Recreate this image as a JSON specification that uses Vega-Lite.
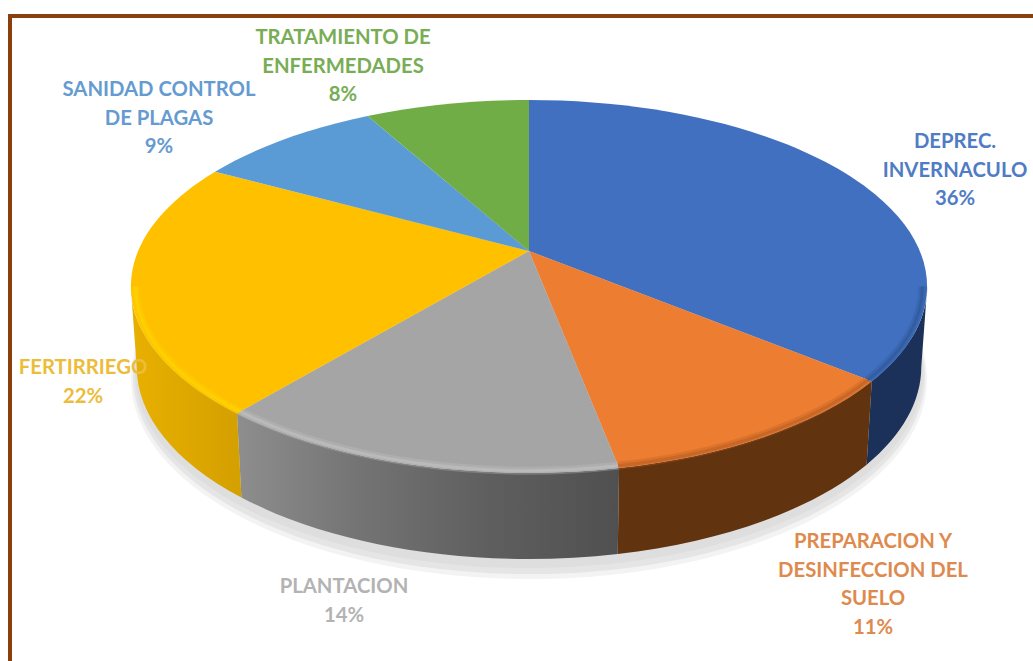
{
"$schema":"https://vega.github.io/schema/vega-lite/v6.json",
"width":1033,"height":661,"padding":0,"autosize":"none","background":"#ffffff",
"config":{"view":{"stroke":null}},
"data":{"values":[
{"sector":"DEPREC. INVERNACULO","label":"DEPREC.|INVERNACULO|36%","value":36},
{"sector":"PREPARACION Y DESINFECCION DEL SUELO","label":"PREPARACION Y|DESINFECCION DEL|SUELO|11%","value":11},
{"sector":"PLANTACION","label":"PLANTACION|14%","value":14},
{"sector":"FERTIRRIEGO","label":"FERTIRRIEGO|22%","value":22},
{"sector":"SANIDAD CONTROL DE PLAGAS","label":"SANIDAD CONTROL|DE PLAGAS|9%","value":9},
{"sector":"TRATAMIENTO DE ENFERMEDADES","label":"TRATAMIENTO DE|ENFERMEDADES|8%","value":8}
]},
"transform":[
{"window":[{"op":"sum","field":"value","as":"end"}]},
{"calculate":"datum.end-datum.value","as":"start"},
{"calculate":"max(datum.start,28.05)","as":"s0"},
{"calculate":"min(datum.end,71.95)","as":"s1"},
{"calculate":"datum.start*PI/50","as":"t0"},
{"calculate":"datum.end*PI/50","as":"t1"},
{"calculate":"datum.s0*PI/50","as":"a0"},
{"calculate":"datum.s1*PI/50","as":"a1"},
{"calculate":"391*sin(datum.t0)/(1+0.19*cos(datum.t0))","as":"x0"},
{"calculate":"-179.7*cos(datum.t0)/(1+0.19*cos(datum.t0))","as":"y0"},
{"calculate":"391*sin(datum.t1)/(1+0.19*cos(datum.t1))","as":"x1"},
{"calculate":"-179.7*cos(datum.t1)/(1+0.19*cos(datum.t1))","as":"y1"},
{"calculate":"391*sin(datum.a0)/(1+0.19*cos(datum.a0))","as":"u0"},
{"calculate":"-179.7*cos(datum.a0)/(1+0.19*cos(datum.a0))","as":"v0"},
{"calculate":"391*sin(datum.a1)/(1+0.19*cos(datum.a1))","as":"u1"},
{"calculate":"-179.7*cos(datum.a1)/(1+0.19*cos(datum.a1))","as":"v1"},
{"calculate":"'M0,0L'+datum.x0+','+datum.y0+'A398,186.5 0 0 1 '+datum.x1+','+datum.y1+'Z'","as":"wedge"},
{"calculate":"'M'+datum.u0+','+datum.v0+'A398,186.5 0 0 1 '+datum.u1+','+datum.v1+'L'+(datum.u1*0.985)+','+(116+(datum.v1-35.5)*1.03)+'A392,192 0 0 0 '+(datum.u0*0.985)+','+(116+(datum.v0-35.5)*1.03)+'Z'","as":"side"},
{"calculate":"'M'+(datum.u0*0.988)+','+(35.5+(datum.v0-35.5)*0.988)+'A393.2,184.3 0 0 1 '+(datum.u1*0.988)+','+(35.5+(datum.v1-35.5)*0.988)","as":"rim"},
{"calculate":"{'DEPREC. INVERNACULO':426,'PREPARACION Y DESINFECCION DEL SUELO':344,'PLANTACION':-185,'FERTIRRIEGO':-446,'SANIDAD CONTROL DE PLAGAS':-370,'TRATAMIENTO DE ENFERMEDADES':-186}[datum.sector]","as":"lx"},
{"calculate":"{'DEPREC. INVERNACULO':-109,'PREPARACION Y DESINFECCION DEL SUELO':291,'PLANTACION':336,'FERTIRRIEGO':117,'SANIDAD CONTROL DE PLAGAS':-161,'TRATAMIENTO DE ENFERMEDADES':-213}[datum.sector]","as":"ly"}
],
"layer":[
{"transform":[{"filter":"datum.value==36"}],"mark":{"type":"rule","stroke":"#8B3F0C","strokeWidth":4},"encoding":{"x":{"datum":-519,"type":"quantitative","scale":{"domain":[-529,504]},"axis":null},"y":{"datum":-237,"type":"quantitative","scale":{"domain":[-251,410],"reverse":true},"axis":null},"y2":{"datum":410}}},
{"transform":[{"filter":"datum.value==36"}],"mark":{"type":"rule","stroke":"#8B3F0C","strokeWidth":4},"encoding":{"y":{"datum":-235,"type":"quantitative","scale":{"domain":[-251,410],"reverse":true},"axis":null},"x":{"datum":-521,"type":"quantitative","scale":{"domain":[-529,504]},"axis":null},"x2":{"datum":504}}},
{"encoding":{
"x":{"datum":0,"type":"quantitative","scale":{"domain":[-529,504]},"axis":null},
"y":{"datum":0,"type":"quantitative","scale":{"domain":[-251,410],"reverse":true},"axis":null}
},
"layer":[
{"transform":[{"filter":"datum.value==36"}],"mark":{"type":"point","filled":true,"opacity":0.3,"fill":"#d8d8d8","strokeWidth":0,"size":4,"shape":"M-398,128A398,200 0 1 1 398,128A398,200 0 1 1 -398,128Z"}},
{"transform":[{"filter":"datum.value==36"}],"mark":{"type":"point","filled":true,"opacity":0.5,"fill":"#d8d8d8","strokeWidth":0,"size":4,"shape":"M-396,125A396,198 0 1 1 396,125A396,198 0 1 1 -396,125Z"}},
{"transform":[{"filter":"datum.value==36"}],"mark":{"type":"point","filled":true,"opacity":1,"fill":"#dedede","strokeWidth":0,"size":4,"shape":"M-394,122A394,195 0 1 1 394,122A394,195 0 1 1 -394,122Z"}},
{"transform":[{"filter":"datum.value==36"}],"mark":{"type":"point","filled":true,"opacity":1,"fill":"#1b3159","strokeWidth":0,"size":4},"encoding":{"shape":{"field":"side","type":"nominal","scale":null,"legend":null}}},
{"transform":[{"filter":"datum.value==11"}],"mark":{"type":"point","filled":true,"opacity":1,"fill":"#62330f","strokeWidth":0,"size":4},"encoding":{"shape":{"field":"side","type":"nominal","scale":null,"legend":null}}},
{"transform":[{"filter":"datum.value==14"}],"mark":{"type":"point","filled":true,"opacity":1,"strokeWidth":0,"size":4,"fill":{"gradient":"linear","x1":0,"y1":0,"x2":1,"y2":0,"stops":[{"offset":0,"color":"#8e8e8e"},{"offset":0.3,"color":"#757575"},{"offset":0.65,"color":"#5f5f5f"},{"offset":1,"color":"#505050"}]}},"encoding":{"shape":{"field":"side","type":"nominal","scale":null,"legend":null}}},
{"transform":[{"filter":"datum.value==22"}],"mark":{"type":"point","filled":true,"opacity":1,"strokeWidth":0,"size":4,"fill":{"gradient":"linear","x1":0,"y1":0,"x2":1,"y2":0,"stops":[{"offset":0,"color":"#e8b000"},{"offset":1,"color":"#d4a000"}]}},"encoding":{"shape":{"field":"side","type":"nominal","scale":null,"legend":null}}},
{"mark":{"type":"point","filled":true,"opacity":1,"strokeWidth":0,"size":4},"encoding":{
"shape":{"field":"wedge","type":"nominal","scale":null,"legend":null},
"fill":{"field":"sector","type":"nominal","legend":null,"scale":{"domain":["DEPREC. INVERNACULO","PREPARACION Y DESINFECCION DEL SUELO","PLANTACION","FERTIRRIEGO","SANIDAD CONTROL DE PLAGAS","TRATAMIENTO DE ENFERMEDADES"],"range":["#4070BF","#ED7D31","#A5A5A5","#FFC000","#5B9BD5","#70AD47"]}}}},
{"transform":[{"filter":"datum.s0<datum.s1"}],"mark":{"type":"point","filled":false,"opacity":0.3,"strokeWidth":8,"size":4},"encoding":{
"shape":{"field":"rim","type":"nominal","scale":null,"legend":null},
"stroke":{"field":"sector","type":"nominal","legend":null,"scale":{"domain":["DEPREC. INVERNACULO","PREPARACION Y DESINFECCION DEL SUELO","PLANTACION","FERTIRRIEGO"],"range":["#2f5597","#b85f22","#c4c4c4","#FFD800"]}}}},
{"transform":[{"filter":"datum.s0<datum.s1"}],"mark":{"type":"point","filled":false,"opacity":0.55,"strokeWidth":3,"size":4},"encoding":{
"shape":{"field":"rim","type":"nominal","scale":null,"legend":null},
"stroke":{"field":"sector","type":"nominal","legend":null}}}
]},
{"mark":{"type":"text","font":"Lato","fontWeight":"bold","fontSize":20.3,"lineBreak":"|","lineHeight":28.7,"align":"center","baseline":"middle"},"encoding":{
"x":{"field":"lx","type":"quantitative","scale":{"domain":[-529,504]},"axis":null},
"y":{"field":"ly","type":"quantitative","scale":{"domain":[-251,410],"reverse":true},"axis":null},
"text":{"field":"label","type":"nominal"},
"color":{"field":"sector","type":"nominal","legend":null,"scale":{"domain":["DEPREC. INVERNACULO","PREPARACION Y DESINFECCION DEL SUELO","PLANTACION","FERTIRRIEGO","SANIDAD CONTROL DE PLAGAS","TRATAMIENTO DE ENFERMEDADES"],"range":["#4F7CC4","#DE8A4E","#B3B3B3","#EBBD3A","#659BD0","#79AD55"]}}}}
]
}
